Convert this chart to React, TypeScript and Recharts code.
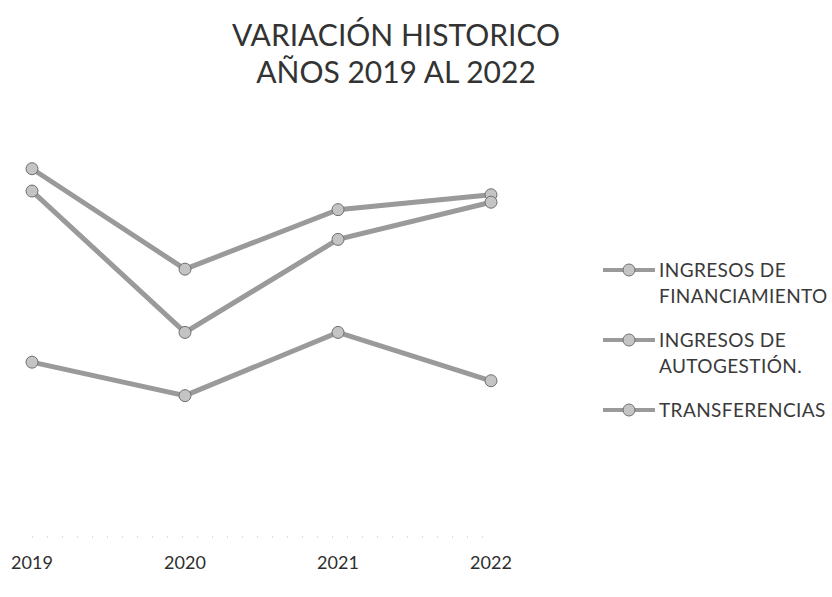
import { LineChart, Line, XAxis, YAxis, Legend } from 'recharts';

const years = ['2019', '2020', '2021', '2022'];
const financiamiento = [99, 72, 88, 92];
const autogestion = [93, 55, 80, 90];
const transferencias = [47, 38, 55, 42];

const seriesNames = ['INGRESOS DE FINANCIAMIENTO', 'INGRESOS DE AUTOGESTIÓN.', 'TRANSFERENCIAS'];
const legendLines = [
  ['INGRESOS DE', 'FINANCIAMIENTO'],
  ['INGRESOS DE', 'AUTOGESTIÓN.'],
  ['TRANSFERENCIAS'],
];

const chartData = years.map((year, i) => ({
  year,
  financiamiento: financiamiento[i],
  autogestion: autogestion[i],
  transferencias: transferencias[i],
}));

const lineColor = '#9a9a9a';
const font = 'Lato, "Open Sans", sans-serif';

function LegendContent() {
  return (
    <div style={{ fontFamily: font, fontSize: 19, letterSpacing: 0.4, color: '#3a3a3a', lineHeight: '26px' }}>
      {legendLines.map((lines, i) => (
        <div key={i} style={{ display: 'flex', alignItems: 'flex-start', marginBottom: 18 }}>
          <svg width={56} height={26} style={{ flexShrink: 0 }}>
            <line x1={2} y1={13} x2={54} y2={13} stroke={lineColor} strokeWidth={4} />
            <circle cx={28} cy={13} r={6} fill="#c4c4c4" stroke="#6f6f6f" strokeWidth={1} />
          </svg>
          <div style={{ marginLeft: 2 }} title={seriesNames[i]}>
            {lines.map((t) => (
              <div key={t}>{t}</div>
            ))}
          </div>
        </div>
      ))}
    </div>
  );
}

export default function App() {
  const dot = { r: 6, fill: '#c4c4c4', stroke: '#6f6f6f', strokeWidth: 1 };
  return (
    <div style={{ position: 'absolute', left: 0, top: 0, width: 832, height: 597, background: '#fff' }}>
      <div
        style={{
          position: 'absolute',
          left: 0,
          top: 16,
          width: 792,
          textAlign: 'center',
          fontFamily: font,
          fontSize: 30,
          lineHeight: '37px',
          color: '#333333',
        }}
      >
        <div>VARIACIÓN HISTORICO</div>
        <div>AÑOS 2019 AL 2022</div>
      </div>
      <LineChart
        width={832}
        height={597}
        data={chartData}
        margin={{ top: 165, right: 341, bottom: 30, left: 32 }}
        style={{ position: 'absolute', left: 0, top: 0 }}
      >
        <XAxis
          dataKey="year"
          axisLine={{ stroke: '#bbbbbb', strokeDasharray: '1 14' }}
          tickLine={false}
          tick={{ fill: '#2e2e2e', fontSize: 18, fontFamily: font }}
          dy={11}
        />
        <YAxis hide domain={[0, 100]} />
        <Legend
          layout="vertical"
          align="center"
          verticalAlign="middle"
          wrapperStyle={{ left: 601, top: 257, width: 232 }}
          content={<LegendContent />}
        />
        <Line
          dataKey="financiamiento"
          name={seriesNames[0]}
          stroke={lineColor}
          strokeWidth={5}
          dot={dot}
          isAnimationActive={false}
        />
        <Line
          dataKey="autogestion"
          name={seriesNames[1]}
          stroke={lineColor}
          strokeWidth={5}
          dot={dot}
          isAnimationActive={false}
        />
        <Line
          dataKey="transferencias"
          name={seriesNames[2]}
          stroke={lineColor}
          strokeWidth={5}
          dot={dot}
          isAnimationActive={false}
        />
      </LineChart>
    </div>
  );
}
